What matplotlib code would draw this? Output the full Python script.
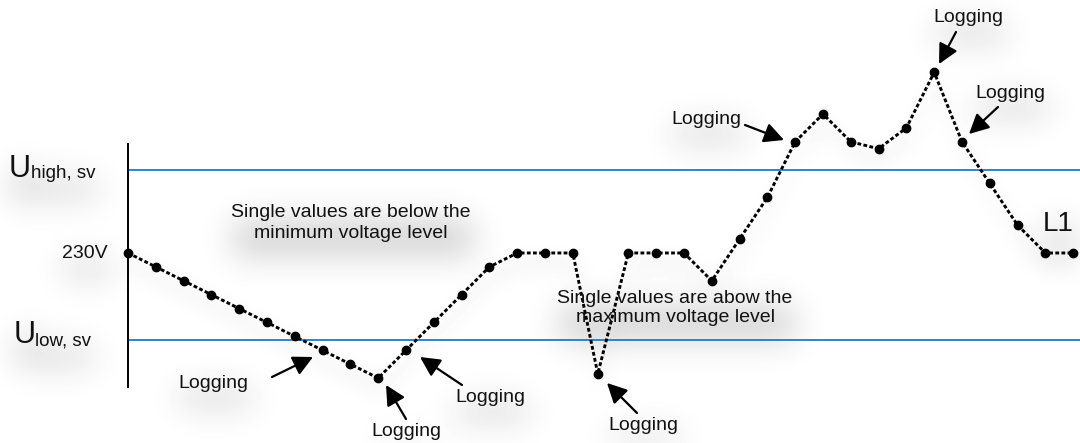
import numpy as np
import matplotlib
matplotlib.use('Agg')
from matplotlib import pyplot as plt

plt.rcParams['font.family'] = ['Liberation Sans', 'DejaVu Sans']

# measurement index and voltage of each single value
sample = [0, 1, 2, 3, 4, 5, 6, 7, 8, 9, 10, 11, 12, 13, 14, 15, 16, 16.9,
          18, 19, 20, 21, 22, 23, 24, 25, 26, 27, 28, 29, 30, 31, 32, 33, 34]
volts = [230, 229, 228, 227, 226, 225, 224, 223, 222, 221, 223, 225, 227, 229,
         230, 230, 230, 221.3, 230, 230, 230, 228, 231, 234, 238, 240, 238,
         237.5, 239, 243, 238, 235, 232, 230, 230]
u_high = 236.0
u_low = 223.75
u_nom = 230

W, H = 1080, 443
fig = plt.figure(figsize=(W / 100, H / 100), dpi=100)
ax = fig.add_axes([0, 0, 1, 1])
ax.set_xlim(-4.604, 34.245)
ax.set_ylim(216.33, 248.2)
ax.axis('off')

def fp(x, y):
    # reference pixel (top-left origin) -> figure pixels
    return (x, H - y)

blue = '#1f7bc4'
ax.hlines([u_high, u_low], 0, 34.245, color=blue, lw=1.3, zorder=2)
ax.vlines(0, 220.3, 237.9, color='k', lw=1.4, zorder=2)
line, = ax.plot(sample, volts, color='k', ls=(0, (1.3, 0.8)), lw=2.1,
                marker='o', ms=6, zorder=4)

texts = []
def label(s, x, y, size=14, ha='center', va='center', **kw):
    t = fig.text(x / W, 1 - y / H, s, fontsize=size, ha=ha, va=va,
                 color='#111111', **kw)
    texts.append(t)
    return t

label('U', 9, 177, size=22, ha='left', va='baseline')
label('high, sv', 31, 178, size=13.5, ha='left', va='baseline')
label('U', 14, 343, size=22, ha='left', va='baseline')
label('low, sv', 35, 346, size=13.5, ha='left', va='baseline')
label('230V', 108, 254, ha='right')
label('L1', 1058, 224, size=20)
label('Single values are below the\nminimum voltage level', 351, 223,
      linespacing=1.25)
label('Single values are abow the\nmaximum voltage level', 675, 308,
      linespacing=1.15)

# Logging labels: text centre, arrow tail, arrow head (reference pixels)
logs = [((213, 383), (272, 377), (313, 357)),
        ((406, 432), (406, 419), (386, 385)),
        ((490, 397), (462, 385), (420, 357)),
        ((643, 425), (637, 413), (607, 383)),
        ((706, 119), (745, 125), (784, 140)),
        ((968, 18), (956, 32), (939, 64)),
        ((1010, 93), (998, 107), (969, 134))]
for (tx, ty), tail, head in logs:
    label('Logging', tx, ty)
    ax.annotate('', xy=fp(*head), xycoords='figure pixels',
                xytext=fp(*tail), textcoords='figure pixels',
                arrowprops=dict(arrowstyle='-|>,head_length=0.75,head_width=0.38',
                                color='k', lw=1.6, mutation_scale=16,
                                shrinkA=0, shrinkB=0), zorder=5)

# soft drop shadows behind texts and the curve
fig.canvas.draw()
rend = fig.canvas.get_renderer()
mask = np.zeros((H, W))
dx, dy = 3, 16
for t in texts:
    bb = t.get_window_extent(rend)
    c0 = int(max(bb.x0 + dx, 0)); c1 = int(min(bb.x1 + dx, W))
    r0 = int(max(H - bb.y1 + dy, 0)); r1 = int(min(H - bb.y0 + dy, H))
    mask[r0:r1, c0:c1] = 1.0

pts = ax.transData.transform(np.column_stack([sample, volts]))
lmask = np.zeros((H, W))
for (x0, y0), (x1, y1) in zip(pts[:-1], pts[1:]):
    n = int(np.hypot(x1 - x0, y1 - y0)) + 1
    xs = np.linspace(x0, x1, n).astype(int) + 3
    ys = (H - np.linspace(y0, y1, n)).astype(int) + 12
    ok = (xs >= 0) & (xs < W) & (ys >= 0) & (ys < H)
    for k in range(-3, 4):
        lmask[np.clip(ys[ok] + k, 0, H - 1), xs[ok]] = 1.0

def blur(a, sigma):
    r = int(3 * sigma)
    k = np.exp(-0.5 * (np.arange(-r, r + 1) / sigma) ** 2)
    k /= k.sum()
    a = np.apply_along_axis(lambda m: np.convolve(m, k, mode='same'), 0, a)
    a = np.apply_along_axis(lambda m: np.convolve(m, k, mode='same'), 1, a)
    return a

shade = 0.17 * blur(mask, 16) + 0.08 * blur(lmask, 10)
shade = 1 - np.clip(shade, 0, 0.16)
ax.imshow(shade, extent=(*ax.get_xlim(), *ax.get_ylim()), origin='upper',
          cmap='gray', vmin=0, vmax=1, aspect='auto', zorder=0,
          interpolation='bilinear')

fig.savefig('out.png', dpi=100)
